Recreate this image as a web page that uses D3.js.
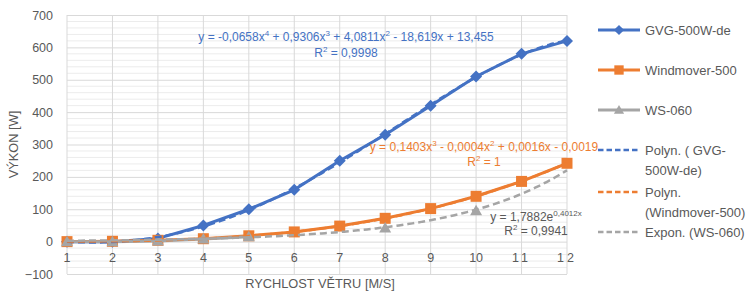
<!DOCTYPE html>
<html>
<head>
<meta charset="utf-8">
<script src="https://cdn.jsdelivr.net/npm/d3@7"></script>
<style>
  body { margin: 0; background: #fff; }
  svg { font-family: "Liberation Sans", Arial, sans-serif; }
</style>
</head>
<body>
<svg id="chart" width="753" height="294"></svg>
<script>
// wind speed categories [m/s]
const speeds = [1, 2, 3, 4, 5, 6, 7, 8, 9, 10, 11, 12];
// power [W]
const gvg = [0, 0, 10, 50, 100, 160, 250, 330, 420, 510, 580, 620];
const windmover = [0, 1, 4, 9, 18, 30, 48, 72, 102, 140, 186, 242];
const ws060 = [0, 0, 2, 8, 15, null, null, 42, null, 95, null, null];
const yTicks = [-100, 0, 100, 200, 300, 400, 500, 600, 700];

// trendline coefficients as shown on the chart (c0, c1, c2 ...)
const gvgPoly = [13.455, -18.619, 4.0811, 0.9306, -0.0658];
const windPoly = [-0.0019, 0.0016, -0.0004, 0.1403];
const wsExp = [1.7882, 0.4012];

const blue = '#4472C4', orange = '#ED7D31', grey = '#A5A5A5', txt = '#595959';

const svg = d3.select('#chart');
const margin = { top: 15, right: 186, bottom: 20, left: 67 };
const width = 753 - margin.left - margin.right;   // 500
const height = 294 - margin.top - margin.bottom;  // 259

const x = d3.scaleLinear().domain([1, 12]).range([0, width]);
const y = d3.scaleLinear().domain([-100, 700]).range([height, 0]);

const g = svg.append('g').attr('transform', `translate(${margin.left},${margin.top})`);

// minor grid
g.append('g')
  .selectAll('line')
  .data(d3.range(-100, 701, 20).filter(v => v % 100 !== 0))
  .enter().append('line')
  .attr('x1', 0).attr('x2', width)
  .attr('y1', d => y(d)).attr('y2', d => y(d))
  .attr('stroke', '#ececec').attr('stroke-width', 1);

// major y grid + labels
g.append('g')
  .call(d3.axisLeft(y).tickValues(yTicks).tickSize(-width).tickPadding(14))
  .call(a => a.select('.domain').remove())
  .call(a => a.selectAll('.tick line').attr('stroke', '#d9d9d9'))
  .call(a => a.selectAll('.tick text').attr('fill', txt).attr('font-size', 12.5));

// vertical grid
g.append('g')
  .selectAll('line')
  .data(speeds)
  .enter().append('line')
  .attr('x1', d => x(d)).attr('x2', d => x(d))
  .attr('y1', 0).attr('y2', height)
  .attr('stroke', '#d9d9d9');

// x labels sit on the zero line
g.append('g')
  .selectAll('text')
  .data(speeds)
  .enter().append('text')
  .attr('x', d => x(d))
  .attr('y', y(0) + 16)
  .attr('dy', '0.35em')
  .attr('text-anchor', 'middle')
  .attr('fill', txt)
  .attr('font-size', 12.5)
  .attr('letter-spacing', d => d > 10 ? 3 : 0)
  .text(d => d);

// series
const line = d3.line()
  .defined(d => d[1] != null)
  .x(d => x(d[0]))
  .y(d => y(d[1]));

const diamond = 'M0,-6L6,0L0,6L-6,0Z';
const square = 'M-5.5,-5.5H5.5V5.5H-5.5Z';
const triangle = 'M0,-6L6,4.5H-6Z';

const series = [
  { name: 'GVG-500W-de', values: gvg, color: blue, marker: diamond },
  { name: 'Windmover-500', values: windmover, color: orange, marker: square },
  { name: 'WS-060', values: ws060, color: grey, marker: triangle }
];

series.forEach(s => {
  const pts = speeds.map((v, i) => [v, s.values[i]]);
  g.append('path')
    .datum(pts)
    .attr('fill', 'none')
    .attr('stroke', s.color)
    .attr('stroke-width', 3)
    .attr('stroke-linejoin', 'round')
    .attr('d', line);
  g.selectAll(null)
    .data(pts.filter(p => p[1] != null))
    .enter().append('path')
    .attr('d', s.marker)
    .attr('fill', s.color)
    .attr('transform', p => `translate(${x(p[0])},${y(p[1])})`);
});

// trendlines
const poly = c => v => c.reduce((acc, k, i) => acc + k * Math.pow(v, i), 0);
const expo = c => v => c[0] * Math.exp(c[1] * v);
const samples = d3.range(1, 12.001, 0.1);
const trends = [
  { f: poly(gvgPoly), color: blue },
  { f: poly(windPoly), color: orange },
  { f: expo(wsExp), color: grey }
];
const trendLine = d3.line().x(d => x(d[0])).y(d => y(d[1])).curve(d3.curveMonotoneX);
trends.forEach(t => {
  g.append('path')
    .datum(samples.map(v => [v, t.f(v)]))
    .attr('fill', 'none')
    .attr('stroke', t.color)
    .attr('stroke-width', 2.5)
    .attr('stroke-dasharray', '7,4')
    .attr('d', trendLine);
});

// equation labels, {sup: ...} parts are raised
function richText(parent, xPos, yPos, parts, color) {
  const t = parent.append('text')
    .attr('x', xPos).attr('y', yPos)
    .attr('text-anchor', 'middle')
    .attr('fill', color)
    .attr('font-size', 12);
  let shift = 0;
  parts.forEach(p => {
    if (typeof p === 'string') {
      t.append('tspan').attr('dy', -shift).text(p);
      shift = 0;
    } else {
      t.append('tspan').attr('dy', -5).attr('font-size', 8).text(p.sup);
      shift = -5;
    }
  });
  return t;
}

richText(svg, 346, 41, ['y = -0,0658x', { sup: '4' }, ' + 0,9306x', { sup: '3' }, ' + 4,0811x', { sup: '2' }, ' - 18,619x + 13,455'], blue);
richText(svg, 346, 57, ['R', { sup: '2' }, ' = 0,9998'], blue);
richText(svg, 484, 151, ['y = 0,1403x', { sup: '3' }, ' - 0,0004x', { sup: '2' }, ' + 0,0016x - 0,0019'], orange);
richText(svg, 484, 166, ['R', { sup: '2' }, ' = 1'], orange);
richText(svg, 536, 221, ['y = 1,7882e', { sup: '0,4012x' }], txt);
richText(svg, 536, 235, ['R', { sup: '2' }, ' = 0,9941'], txt);

// axis titles
svg.append('text')
  .attr('x', margin.left + width / 2 + 3)
  .attr('y', 288)
  .attr('text-anchor', 'middle')
  .attr('fill', txt)
  .attr('font-size', 12.8)
  .text('RYCHLOST VĚTRU [M/S]');

svg.append('text')
  .attr('transform', `translate(14,${margin.top + height / 2}) rotate(-90)`)
  .attr('text-anchor', 'middle')
  .attr('dy', '0.35em')
  .attr('fill', txt)
  .attr('font-size', 12.8)
  .text('VÝKON [W]');

// legend
const legendItems = [
  { lines: ['GVG-500W-de'], color: blue, marker: diamond, y: 30 },
  { lines: ['Windmover-500'], color: orange, marker: square, y: 70 },
  { lines: ['WS-060'], color: grey, marker: triangle, y: 110 },
  { lines: ['Polyn. ( GVG-', '500W-de)'], color: blue, dashed: true, y: 150 },
  { lines: ['Polyn.', '(Windmover-500)'], color: orange, dashed: true, y: 192 },
  { lines: ['Expon. (WS-060)'], color: grey, dashed: true, y: 232 }
];
const legend = svg.append('g');
legendItems.forEach(it => {
  legend.append('line')
    .attr('x1', 598).attr('x2', 640)
    .attr('y1', it.y).attr('y2', it.y)
    .attr('stroke', it.color)
    .attr('stroke-width', it.dashed ? 2.5 : 3)
    .attr('stroke-dasharray', it.dashed ? '5.5,3' : null);
  if (it.marker) {
    legend.append('path')
      .attr('d', it.marker)
      .attr('fill', it.color)
      .attr('transform', `translate(619,${it.y}) scale(0.85)`);
  }
  it.lines.forEach((l, i) => {
    legend.append('text')
      .attr('x', 645)
      .attr('y', it.y + i * 20)
      .attr('dy', '0.35em')
      .attr('fill', txt)
      .attr('font-size', 13)
      .text(l);
  });
});
</script>
</body>
</html>
